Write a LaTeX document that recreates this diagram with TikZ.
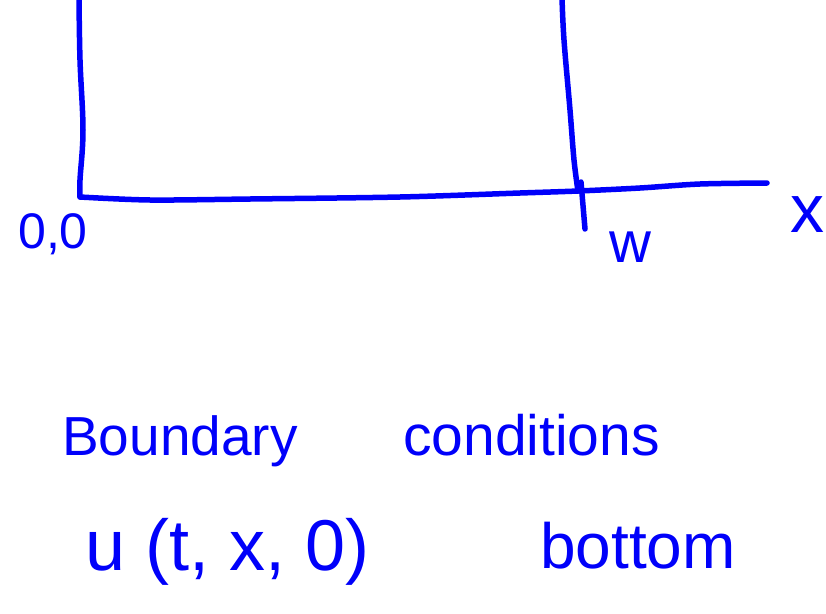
\documentclass[tikz,border=0pt]{standalone}
\usepackage{fontspec}
\setmainfont{Liberation Sans}
\begin{document}
\begin{tikzpicture}[x=1pt,y=-1pt,
  ink/.style={draw=inkblue,line width=5.5pt,line cap=round,line join=round},
  hand/.style={text=inkblue,inner sep=0pt,anchor=base west}]
\definecolor{inkblue}{RGB}{0,0,250}
\useasboundingbox (0,0) rectangle (826,613);
% corner coordinates
\coordinate (tl) at (79,-2);
\coordinate (origin) at (80,197);
\coordinate (tr) at (562,-2);
\coordinate (wcorner) at (578,191);
\coordinate (xend) at (767,183);
\coordinate (ticktop) at (581,182);
\coordinate (tickbot) at (585,229);
% left side
\draw[ink] plot[smooth,tension=0.6] coordinates {(tl) (80,60) (83,130) (80,180) (origin)};
% bottom and x axis
\draw[ink] plot[smooth,tension=0.5] coordinates {(origin) (150,200) (250,199) (400,197) (520,193) (wcorner) (640,188) (700,184) (xend)};
% right side
\draw[ink] plot[smooth,tension=0.6] coordinates {(tr) (564,40) (570,110) (574,160) (wcorner)};
% tick at w
\draw[ink] (ticktop) -- (tickbot);
% labels
\node[hand,font=\fontsize{50}{50}\selectfont] (oo) at (18,248) {0,0};
\node[hand,font=\fontsize{58}{58}\selectfont] (w) at (609,262) {w};
\node[hand,font=\fontsize{68}{68}\selectfont] (xl) at (790,232) {x};
\node[hand,font=\fontsize{55}{55}\selectfont] (bc1) at (62,455) {Boundary};
\node[hand,font=\fontsize{57}{57}\selectfont] (bc2) at (403,455) {conditions};
\node[hand,font=\fontsize{72}{72}\selectfont] (u) at (85,570) {u (t, x, 0)};
\node[hand,font=\fontsize{64}{64}\selectfont] (bot) at (540,568) {bottom};
\end{tikzpicture}
\end{document}
